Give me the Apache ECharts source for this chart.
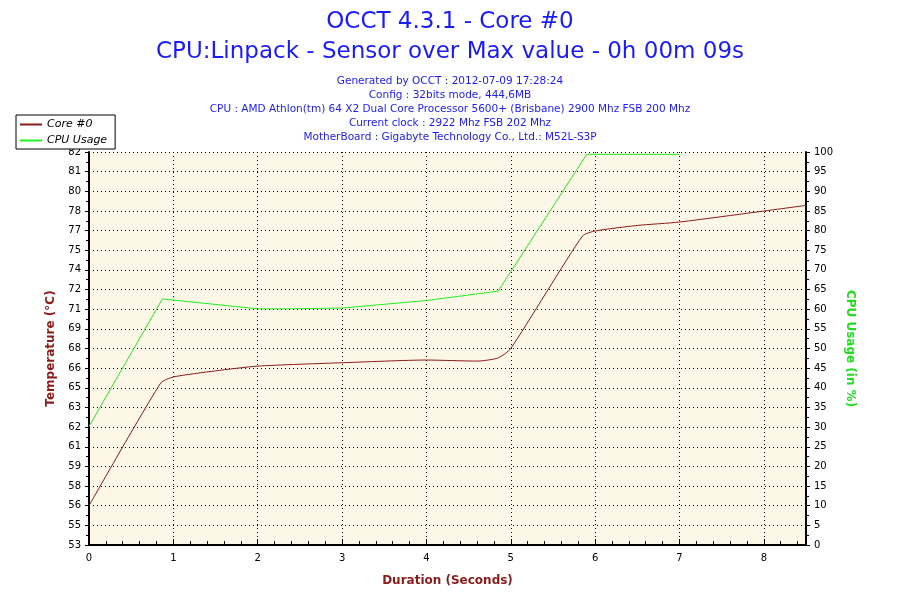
<!DOCTYPE html>
<html>
<head>
<meta charset="utf-8">
<script src="https://cdn.jsdelivr.net/npm/echarts@6/dist/echarts.min.js"></script>
<style>html,body{margin:0;padding:0;background:#fff}#c{width:900px;height:600px}</style>
</head>
<body>
<div id="c"></div>
<script>
// temperature of core #0 (°C) against time in seconds
const coreTemp = [
  [0, 55.9], [0.85, 64.95], [1, 65.4], [1.5, 65.85], [2, 66.2], [3, 66.45],
  [4, 66.65], [4.6, 66.57], [4.85, 66.8], [5, 67.5], [5.85, 75.8], [6, 76.17],
  [6.5, 76.58], [7, 76.83], [8.5, 78.06]
];
// cpu usage (%)
const cpuUsage = [
  [0, 30.2], [0.87, 62.6], [2, 60.1], [2.4, 60.1], [3, 60.3], [4, 62.2],
  [4.85, 64.6], [5.9, 99.4], [7, 99.4]
];
const tempLabels = ["53","55","56","58","59","61","62","63","65","66","68",
  "69","71","72","74","75","77","78","80","81","82"];

const tMin = 53, tStep = 1.45;
const blue = "#1a1aff";
const font = "DejaVu Sans";

const chart = echarts.init(document.getElementById("c"));

const option = {
  backgroundColor: "#fff",
  animation: false,
  textStyle: { fontFamily: font },
  title: [
    { text: "OCCT 4.3.1 - Core #0", left: "center", top: 6,
      textStyle: { color: blue, fontSize: 23, fontWeight: "normal", fontFamily: font } },
    { text: "CPU:Linpack - Sensor over Max value - 0h 00m 09s", left: "center", top: 36,
      textStyle: { color: blue, fontSize: 23, fontWeight: "normal", fontFamily: font } },
    { text: "Generated by OCCT : 2012-07-09 17:28:24\nConfig : 32bits mode, 444,6MB\nCPU : AMD Athlon(tm) 64 X2 Dual Core Processor 5600+ (Brisbane) 2900 Mhz FSB 200 Mhz\nCurrent clock : 2922 Mhz FSB 202 Mhz\nMotherBoard : Gigabyte Technology Co., Ltd.: M52L-S3P",
      left: "center", top: 69,
      textStyle: { color: blue, fontSize: 10.5, fontWeight: "normal", lineHeight: 14,
        align: "center", fontFamily: font } }
  ],
  legend: {
    orient: "vertical", left: 16, top: 115, itemGap: 5,
    itemWidth: 22, itemHeight: 2, padding: [4, 8, 3, 4],
    borderColor: "#000", borderWidth: 1, backgroundColor: "#fff",
    icon: "rect",
    textStyle: { fontStyle: "italic", fontSize: 11, color: "#000" },
    data: ["Core #0", "CPU Usage"]
  },
  grid: { left: 89, right: 94, top: 152, bottom: 55, show: true,
    backgroundColor: "#fdf7e8", borderColor: "#000", borderWidth: 0 },
  xAxis: {
    type: "value", min: 0, max: 8.5, interval: 1,
    name: "Duration (Seconds)", nameLocation: "middle", nameGap: 30,
    nameTextStyle: { color: "#8b1a1a", fontWeight: "bold", fontSize: 12 },
    axisLine: { lineStyle: { color: "#000", width: 2 } },
    axisTick: { inside: true, length: 6, lineStyle: { color: "#000" } },
    minorTick: { show: true, splitNumber: 5, length: 4, lineStyle: { color: "#000" } },
    axisLabel: { color: "#000", fontSize: 10,
      formatter: v => Number.isInteger(v) ? String(v) : "" },
    splitLine: { show: true, lineStyle: { color: "#000", type: [1, 3] } }
  },
  yAxis: [
    { type: "value", min: tMin, max: tMin + 20 * tStep, interval: tStep,
      name: "Temperature (°C)", nameLocation: "middle", nameGap: 32, nameRotate: 90,
      nameTextStyle: { color: "#8b1a1a", fontWeight: "bold", fontSize: 12 },
      axisLine: { show: true, lineStyle: { color: "#000", width: 2 } },
      axisTick: { show: true, inside: false, length: 4, lineStyle: { color: "#000" } },
      minorTick: { show: true, splitNumber: 2, length: 3, lineStyle: { color: "#000" } },
      axisLabel: { color: "#000", fontSize: 10,
        formatter: v => tempLabels[Math.round((v - tMin) / tStep)] || "" },
      splitLine: { show: true, lineStyle: { color: "#000", type: [1, 3] } } },
    { type: "value", min: 0, max: 100, interval: 5,
      name: "CPU Usage (in %)", nameLocation: "middle", nameGap: 36, nameRotate: -90,
      nameTextStyle: { color: "#22dd22", fontWeight: "bold", fontSize: 12 },
      axisLine: { show: true, lineStyle: { color: "#000", width: 2 } },
      axisTick: { show: true, length: 4, lineStyle: { color: "#000" } },
      minorTick: { show: true, splitNumber: 2, length: 3, lineStyle: { color: "#000" } },
      axisLabel: { color: "#000", fontSize: 10 },
      splitLine: { show: false } }
  ],
  series: [
    { name: "Core #0", type: "line", yAxisIndex: 0, data: coreTemp, smooth: 0.2,
      showSymbol: false, color: "#8b1a1a", lineStyle: { width: 1 } },
    { name: "CPU Usage", type: "line", yAxisIndex: 1, data: cpuUsage,
      showSymbol: false, color: "#22ee22", lineStyle: { width: 1 } }
  ]
};

chart.setOption(option);
</script>
</body>
</html>
